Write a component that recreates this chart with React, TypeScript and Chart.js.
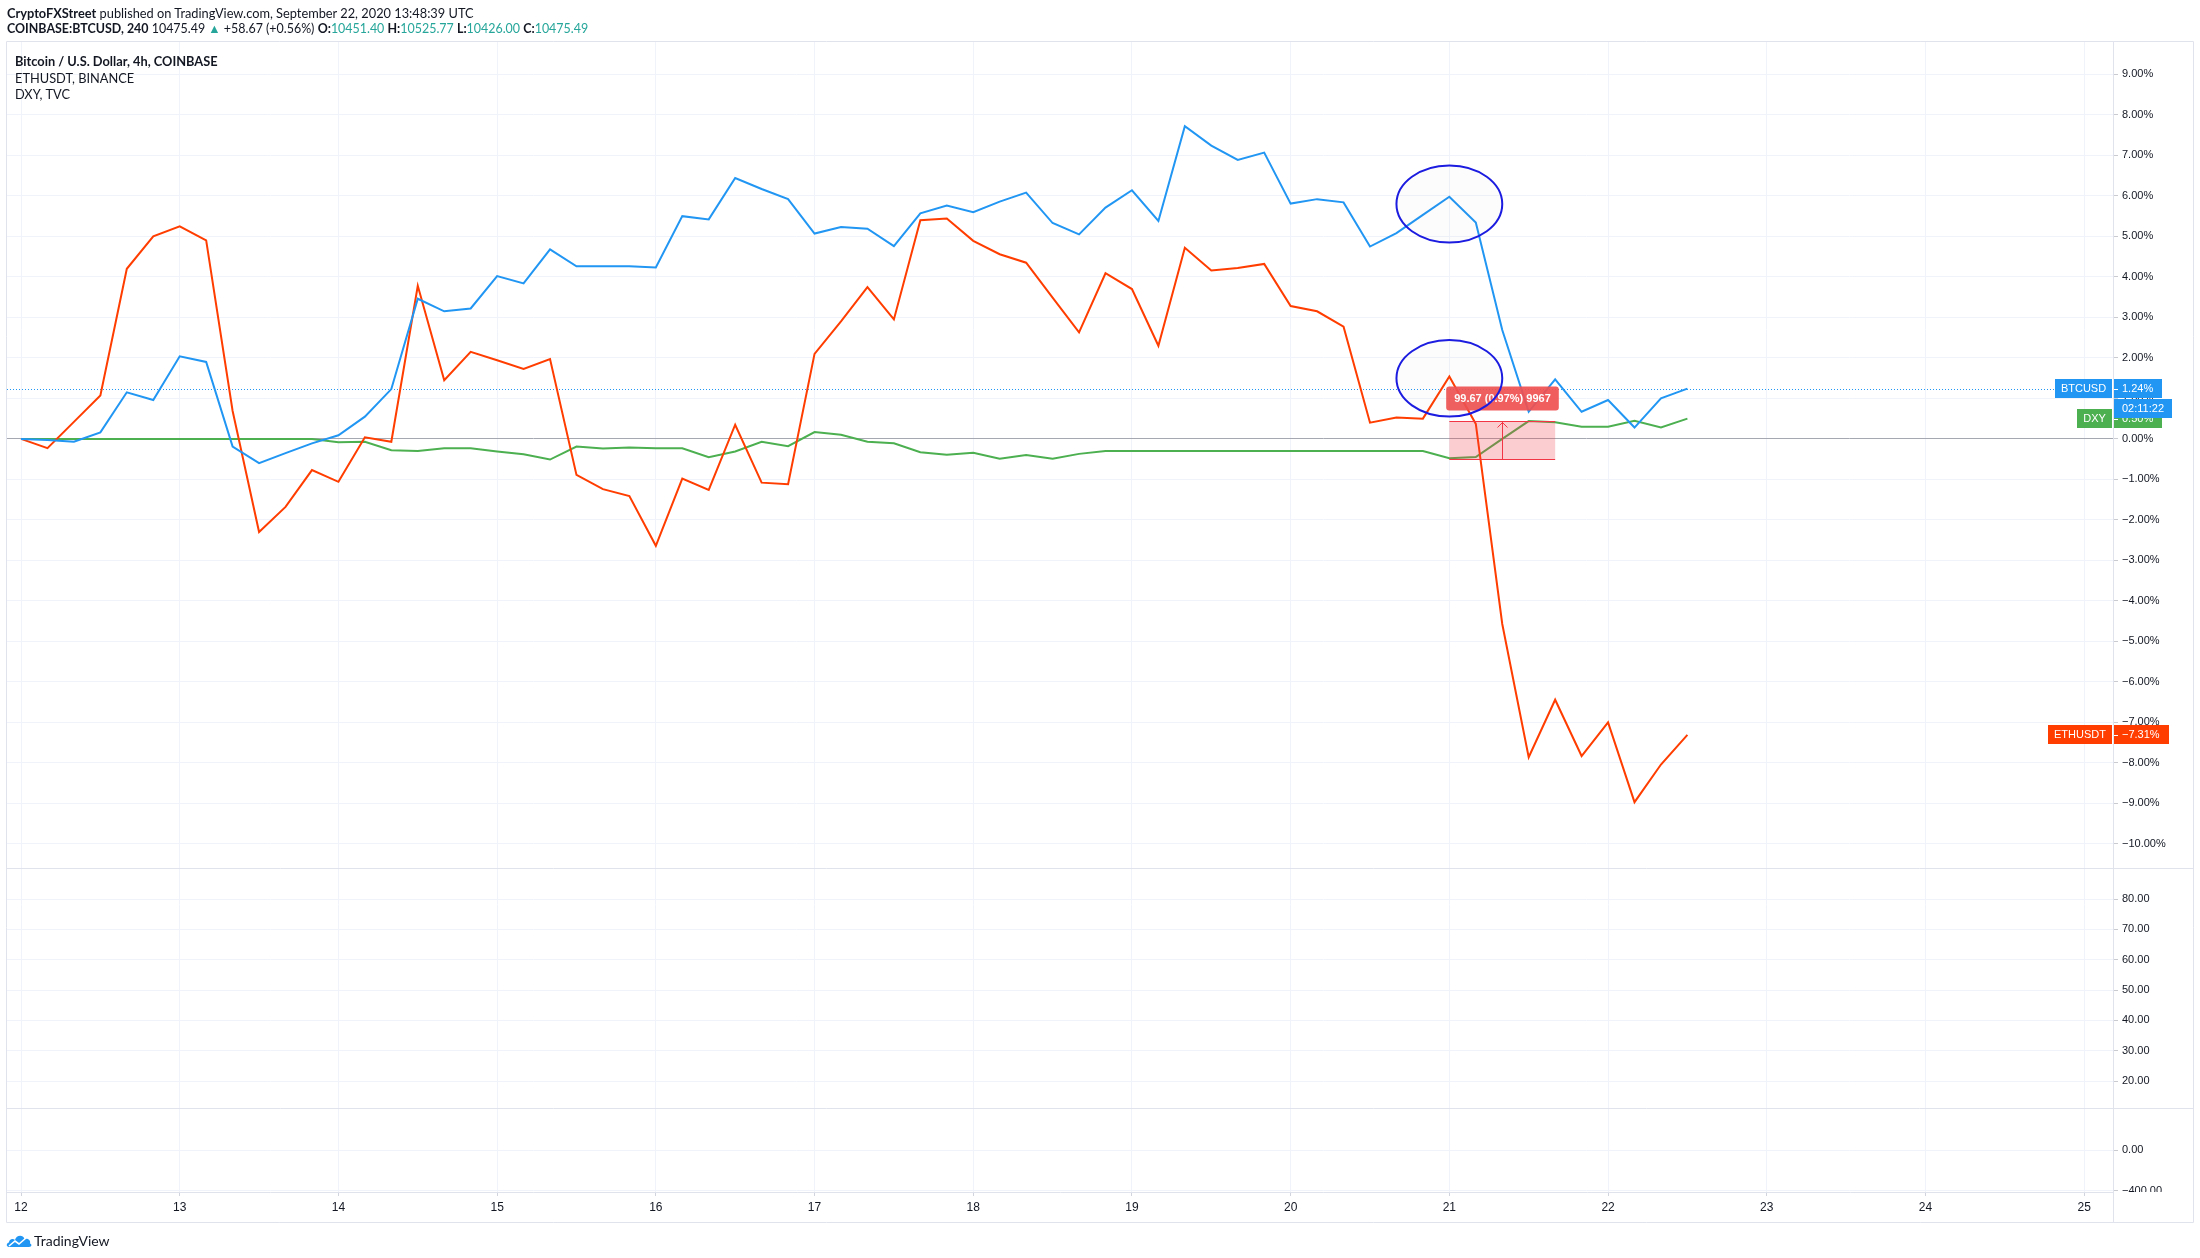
import React, { useEffect, useRef } from 'react';
import { Chart, registerables } from 'chart.js';

Chart.register(...registerables);

// ---------- data ----------
const startDay = 12;
const barsPerDay = 6; // 4h bars
const dayLabels = ['12', '13', '14', '15', '16', '17', '18', '19', '20', '21', '22', '23', '24', '25'];

const btcPct = [
  0, -0.03, -0.07, 0.16, 1.15, 0.96, 2.04, 1.9, -0.19, -0.6, -0.35, -0.11, 0.09, 0.55, 1.23, 3.46,
  3.15, 3.22, 4.02, 3.84, 4.68, 4.26, 4.26, 4.26, 4.23, 5.5, 5.42, 6.44, 6.17, 5.92, 5.07, 5.23,
  5.19, 4.76, 5.57, 5.76, 5.6, 5.86, 6.08, 5.33, 5.05, 5.71, 6.14, 5.38, 7.72, 7.24, 6.89, 7.07,
  5.81, 5.92, 5.84, 4.75, 5.08, 5.53, 5.98, 5.34, 2.69, 0.67, 1.47, 0.67, 0.96, 0.28, 1.0, 1.24,
];
const ethPct = [
  0, -0.23, 0.42, 1.07, 4.2, 5.0, 5.25, 4.9, 0.69, -2.3, -1.68, -0.77, -1.06, 0.04, -0.07, 3.78,
  1.45, 2.15, 1.94, 1.73, 1.97, -0.89, -1.24, -1.41, -2.64, -0.98, -1.26, 0.35, -1.08, -1.12, 2.1, 2.9,
  3.75, 2.95, 5.4, 5.44, 4.89, 4.56, 4.35, 3.49, 2.63, 4.09, 3.7, 2.3, 4.72, 4.16, 4.22, 4.32,
  3.28, 3.15, 2.77, 0.4, 0.53, 0.5, 1.54, 0.37, -4.57, -7.86, -6.44, -7.83, -7.0, -8.97, -8.04, -7.31,
];
const dxyPct = [
  0, 0, 0, 0, 0, 0, 0, 0, 0, 0, 0, 0, -0.08, -0.07, -0.28, -0.3,
  -0.23, -0.23, -0.31, -0.38, -0.51, -0.19, -0.24, -0.21, -0.23, -0.23, -0.45, -0.31, -0.07, -0.18, 0.17, 0.1,
  -0.07, -0.11, -0.33, -0.39, -0.34, -0.49, -0.4, -0.49, -0.37, -0.3, -0.3, -0.3, -0.3, -0.3, -0.3, -0.3,
  -0.3, -0.3, -0.3, -0.3, -0.3, -0.3, -0.48, -0.45, 0.0, 0.44, 0.41, 0.3, 0.3, 0.45, 0.28, 0.5,
];

const mainTicks = [-10, -9, -8, -7, -6, -5, -4, -3, -2, -1, 0, 1, 2, 3, 4, 5, 6, 7, 8, 9];
const pane2Ticks = [20, 30, 40, 50, 60, 70, 80];
const pane3Ticks = [-400, 0];

// drawings (data coordinates: bar index, percent)
const ellipseBars = [52, 56];
const ellipseTopY = [4.85, 6.75];
const ellipseLowY = [0.55, 2.44];
const rangeBars = [54, 58];
const rangePct = [-0.5, 0.45];
const rangeLabel = '99.67 (0.97%) 9967';
const countdown = '02:11:22';

const BTC = '#2196f3';
const ETH = '#ff3d00';
const DXY = '#4caf50';
const GRID = '#f0f3fa';
const FRAME = '#e0e3eb';
const TEXT = '#131722';
const FONT = '"Liberation Sans", Arial, sans-serif';

const fmtPct = (v: number) => (v < 0 ? '\u2212' : '') + Math.abs(v).toFixed(2) + '%';

function priceLabel(ctx: any, axisX: number, yPix: number, name: string, value: string, color: string) {
  ctx.save();
  ctx.font = '11px ' + FONT;
  const h = 19;
  const top = Math.round(yPix - h / 2);
  const nw = Math.round(ctx.measureText(name).width + 12);
  const vw = Math.round(ctx.measureText(value).width + 17);
  ctx.fillStyle = color;
  ctx.fillRect(axisX - 1 - nw, top, nw, h);
  ctx.fillRect(axisX + 1, top, vw, h);
  ctx.fillStyle = '#ffffff';
  ctx.fillRect(axisX + 1, Math.round(yPix), 4, 1);
  ctx.textBaseline = 'middle';
  ctx.textAlign = 'center';
  ctx.fillText(name, axisX - 1 - nw / 2, top + h / 2 + 0.5);
  ctx.textAlign = 'left';
  ctx.fillText(value, axisX + 9, top + h / 2 + 0.5);
  ctx.restore();
  return top + h;
}

const tvPlugin = {
  id: 'tvDrawings',
  beforeDatasetsDraw(chart: any) {
    const { ctx } = chart;
    const xs = chart.scales.x;
    const ys = chart.scales.y;
    const yy = Math.round(ys.getPixelForValue(btcPct[btcPct.length - 1])) + 0.5;
    ctx.save();
    ctx.strokeStyle = BTC;
    ctx.lineWidth = 1;
    ctx.setLineDash([1, 2]);
    ctx.beginPath();
    ctx.moveTo(xs.left, yy);
    ctx.lineTo(xs.right, yy);
    ctx.stroke();
    ctx.restore();
  },
  afterDatasetsDraw(chart: any) {
    const { ctx } = chart;
    const xs = chart.scales.x;
    const ys = chart.scales.y;
    ctx.save();
    // price range tool
    const x0 = xs.getPixelForValue(rangeBars[0]);
    const x1 = xs.getPixelForValue(rangeBars[1]);
    const yT = Math.round(ys.getPixelForValue(rangePct[1])) + 0.5;
    const yB = Math.round(ys.getPixelForValue(rangePct[0])) + 0.5;
    ctx.fillStyle = 'rgba(242,54,69,0.25)';
    ctx.fillRect(x0, yT, x1 - x0, yB - yT);
    ctx.strokeStyle = '#f23645';
    ctx.lineWidth = 1;
    ctx.beginPath();
    ctx.moveTo(x0, yT); ctx.lineTo(x1, yT);
    ctx.moveTo(x0, yB); ctx.lineTo(x1, yB);
    const xm = Math.round((x0 + x1) / 2) + 0.5;
    ctx.moveTo(xm, yB); ctx.lineTo(xm, yT);
    ctx.moveTo(xm - 5, yT + 6); ctx.lineTo(xm, yT + 1); ctx.lineTo(xm + 5, yT + 6);
    ctx.stroke();
    // label
    ctx.font = 'bold 11px ' + FONT;
    const tw = ctx.measureText(rangeLabel).width;
    const bw = tw + 16;
    const bh = 24;
    const bx = xm - bw / 2;
    const by = yT - 11 - bh;
    ctx.fillStyle = 'rgba(240,80,80,0.92)';
    ctx.beginPath();
    ctx.roundRect(bx, by, bw, bh, 3);
    ctx.fill();
    ctx.fillStyle = '#ffffff';
    ctx.textAlign = 'center';
    ctx.textBaseline = 'middle';
    ctx.fillText(rangeLabel, xm, by + bh / 2 + 0.5);
    // ellipses
    const ex0 = xs.getPixelForValue(ellipseBars[0]);
    const ex1 = xs.getPixelForValue(ellipseBars[1]);
    for (const yr of [ellipseTopY, ellipseLowY]) {
      const ey0 = ys.getPixelForValue(yr[1]);
      const ey1 = ys.getPixelForValue(yr[0]);
      ctx.beginPath();
      ctx.ellipse((ex0 + ex1) / 2, (ey0 + ey1) / 2, (ex1 - ex0) / 2, (ey1 - ey0) / 2, 0, 0, Math.PI * 2);
      ctx.fillStyle = 'rgba(120,123,134,0.025)';
      ctx.fill();
      ctx.strokeStyle = '#1c1ce0';
      ctx.lineWidth = 2;
      ctx.stroke();
    }
    ctx.restore();
  },
  afterDraw(chart: any) {
    const { ctx } = chart;
    const xs = chart.scales.x;
    const ys = chart.scales.y;
    const y2 = chart.scales.y2;
    const y3 = chart.scales.y3;
    const axisX = Math.round(ys.left);
    const L = Math.round(xs.left);
    const R = Math.round(ys.right);
    const T = Math.round(ys.top);
    const B = Math.round(xs.bottom);
    ctx.save();
    // hide overflow of lowest pane labels into time-axis row
    ctx.fillStyle = '#ffffff';
    ctx.fillRect(axisX + 1, Math.round(y3.bottom), R - axisX - 1, B - Math.round(y3.bottom));
    ctx.strokeStyle = FRAME;
    ctx.lineWidth = 1;
    ctx.beginPath();
    ctx.rect(L - 0.5, T - 0.5, R - L + 1, B - T + 1);
    for (const s of [y2, y3]) {
      const yy = Math.round(s.top) - 0.5;
      ctx.moveTo(L, yy); ctx.lineTo(R, yy);
    }
    ctx.moveTo(axisX + 0.5, Math.round(y3.bottom)); ctx.lineTo(axisX + 0.5, B);
    ctx.stroke();
    ctx.restore();

    // price axis labels
    const btcBottom = priceLabel(ctx, axisX, ys.getPixelForValue(btcPct[btcPct.length - 1]), 'BTCUSD', fmtPct(btcPct[btcPct.length - 1]), BTC);
    priceLabel(ctx, axisX, ys.getPixelForValue(dxyPct[dxyPct.length - 1]), 'DXY', fmtPct(dxyPct[dxyPct.length - 1]), DXY);
    priceLabel(ctx, axisX, ys.getPixelForValue(ethPct[ethPct.length - 1]), 'ETHUSDT', fmtPct(ethPct[ethPct.length - 1]), ETH);
    ctx.save();
    ctx.font = '11px ' + FONT;
    const cw = Math.round(ctx.measureText(countdown).width + 16);
    ctx.fillStyle = BTC;
    ctx.fillRect(axisX + 1, btcBottom + 1, cw, 19);
    ctx.fillStyle = '#ffffff';
    ctx.textAlign = 'center';
    ctx.textBaseline = 'middle';
    ctx.fillText(countdown, axisX + 1 + cw / 2, btcBottom + 1 + 10);
    ctx.restore();
  },
};

const yCommon = (weight: number, min: number, max: number, tickVals: number[], fmt: (v: number) => string, gridColor: any) => ({
  type: 'linear',
  position: 'right',
  stack: 'panes',
  stackWeight: weight,
  min,
  max,
  offset: false,
  afterBuildTicks: (s: any) => {
    s.ticks = tickVals.map((v) => ({ value: v }));
  },
  afterFit: (s: any) => {
    s.width = 80;
  },
  grid: { color: gridColor, lineWidth: 1, drawTicks: true, tickLength: 5, tickColor: '#c9cbd1' },
  border: { display: true, color: FRAME, width: 1 },
  ticks: {
    autoSkip: false,
    padding: 4,
    color: TEXT,
    font: { family: FONT, size: 11 },
    callback: (v: any) => fmt(Number(v)),
  },
});

export default function App() {
  const ref = useRef<HTMLCanvasElement>(null);

  useEffect(() => {
    document.body.style.margin = '0';
    const canvas = ref.current;
    if (!canvas) return;
    const chart = new Chart(canvas, {
      type: 'line',
      data: {
        datasets: [
          { label: 'BTCUSD', data: btcPct.map((v, i) => ({ x: i, y: v })), borderColor: BTC, borderWidth: 2, pointRadius: 0, tension: 0, yAxisID: 'y' },
          { label: 'ETHUSDT', data: ethPct.map((v, i) => ({ x: i, y: v })), borderColor: ETH, borderWidth: 2, pointRadius: 0, tension: 0, yAxisID: 'y' },
          { label: 'DXY', data: dxyPct.map((v, i) => ({ x: i, y: v })), borderColor: DXY, borderWidth: 2, pointRadius: 0, tension: 0, yAxisID: 'y' },
        ],
      },
      options: {
        responsive: false,
        animation: false,
        events: [],
        layout: { padding: { left: 7, top: 42, right: 7, bottom: 36 } },
        plugins: { legend: { display: false }, tooltip: { enabled: false } },
        scales: {
          x: {
            type: 'linear',
            position: 'bottom',
            min: -0.53,
            max: 79.09,
            afterBuildTicks: (s: any) => {
              s.ticks = dayLabels.map((d) => ({ value: (Number(d) - startDay) * barsPerDay }));
            },
            afterFit: (s: any) => {
              s.height = 30;
            },
            grid: { color: GRID, lineWidth: 1, drawTicks: true, tickLength: 4, tickColor: '#d1d4dc' },
            border: { display: true, color: FRAME, width: 1 },
            ticks: {
              autoSkip: false,
              maxRotation: 0,
              padding: 4,
              color: TEXT,
              font: { family: FONT, size: 12 },
              callback: (v: any) => dayLabels[Math.round(Number(v) / barsPerDay)] ?? '',
            },
          },
          y: yCommon(827, -10.62, 9.8, mainTicks, fmtPct, (c: any) => (c.tick && c.tick.value === 0 ? '#a5a8b0' : GRID)),
          y2: yCommon(240, 10.8, 89.9, pane2Ticks, (v) => v.toFixed(2), GRID),
          y3: yCommon(83, -415, 410, pane3Ticks, (v) => (v < 0 ? '\u2212' : '') + Math.abs(v).toFixed(2), GRID),
        },
      } as any,
      plugins: [tvPlugin as any],
    });
    return () => chart.destroy();
  }, []);

  const teal = { color: '#26a69a' };
  const hdr: React.CSSProperties = {
    position: 'absolute',
    left: 7,
    whiteSpace: 'nowrap',
    fontFamily: 'Lato, "Noto Sans", sans-serif',
    fontSize: 12.8,
    lineHeight: '16px',
    color: TEXT,
  };

  return (
    <div style={{ position: 'relative', width: 2200, height: 1258, background: '#ffffff', overflow: 'hidden' }}>
      <canvas ref={ref} width={2200} height={1258} style={{ position: 'absolute', left: 0, top: 0, width: 2200, height: 1258 }} />
      <div style={{ ...hdr, top: 5 }}>
        <b>CryptoFXStreet</b> published on TradingView.com, September 22, 2020 13:48:39 UTC
      </div>
      <div style={{ ...hdr, top: 21, fontSize: 12.45 }}>
        <b>COINBASE:BTCUSD, 240</b> 10475.49 <span style={teal}>▲</span> +58.67 (+0.56%) <b>O:</b>
        <span style={teal}>10451.40</span> <b>H:</b>
        <span style={teal}>10525.77</span> <b>L:</b>
        <span style={teal}>10426.00</span> <b>C:</b>
        <span style={teal}>10475.49</span>
      </div>
      <div style={{ ...hdr, left: 15, top: 53, lineHeight: '16.5px' }}>
        <div><b>Bitcoin / U.S. Dollar, 4h, COINBASE</b></div>
        <div>ETHUSDT, BINANCE</div>
        <div>DXY, TVC</div>
      </div>
      <div style={{ position: 'absolute', left: 6, top: 1232, display: 'flex', alignItems: 'center' }}>
        <svg width="26" height="15" viewBox="0 0 26 15">
          <path d="M3 14 C0 14 0 10 3 9.5 C3 6 7 5 9 7 C10 2 17 1 18.5 6 C21.5 5 25 7 24 10.5 C26 11 26 14 23 14 Z" fill="#2196f3" />
          <polyline points="3,13 9,8 13,11 20,5" fill="none" stroke="#ffffff" strokeWidth="1.6" />
        </svg>
        <span style={{ marginLeft: 2, fontFamily: 'Lato, sans-serif', fontSize: 14, color: TEXT }}>TradingView</span>
      </div>
    </div>
  );
}
